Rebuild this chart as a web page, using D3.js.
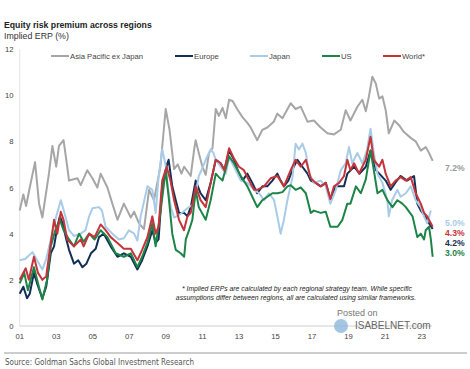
<!DOCTYPE html>
<meta charset="utf-8">
<style>
body { margin: 0; background: #fff; }
text { font-family: "Liberation Sans", Arial, sans-serif; }
.tick-label { font-size: 7.7px; fill: #444; }
.legend-label { font-size: 7.7px; fill: #444; }
.series { fill: none; stroke-width: 2; stroke-linejoin: round; }
</style>
<body>
<script src="https://cdn.jsdelivr.net/npm/d3@7"></script>
<script>

var width = 470,
    height = 369;

// series, [decimal year, implied ERP %]
var asiaPac = [[2001.0,5.0],[2001.2,5.7],[2001.35,5.2],[2001.55,6.0],[2001.84,7.1],[2002.06,5.3],[2002.24,4.7],[2002.6,6.6],[2002.79,7.8],[2003.0,6.9],[2003.15,7.8],[2003.4,8.05],[2003.6,6.9],[2003.7,6.3],[2004.16,6.4],[2004.34,6.1],[2004.7,6.75],[2004.98,6.4],[2005.25,6.0],[2005.43,6.6],[2005.8,6.0],[2006.07,5.3],[2006.35,4.6],[2006.7,5.3],[2007.08,4.7],[2007.26,4.95],[2007.53,4.45],[2007.8,4.2],[2008.08,5.9],[2008.35,5.45],[2008.7,6.9],[2008.99,9.4],[2009.2,8.5],[2009.45,6.8],[2009.65,7.0],[2009.85,6.6],[2010.0,6.9],[2010.36,6.5],[2010.54,7.6],[2010.63,8.05],[2010.8,7.5],[2011.0,6.9],[2011.18,6.55],[2011.36,7.5],[2011.55,7.7],[2011.73,9.4],[2011.9,9.1],[2012.1,9.45],[2012.28,9.0],[2012.46,9.8],[2012.65,9.75],[2012.9,9.4],[2013.19,9.05],[2013.46,8.8],[2013.64,8.6],[2014.0,8.05],[2014.28,8.5],[2014.55,8.6],[2014.9,8.85],[2015.1,9.2],[2015.38,9.0],[2015.83,9.65],[2016.1,9.4],[2016.38,9.5],[2016.75,8.85],[2017.1,8.9],[2017.47,8.6],[2017.84,8.35],[2018.2,8.3],[2018.57,8.5],[2018.84,9.35],[2019.1,8.9],[2019.48,9.5],[2019.75,9.8],[2019.94,9.3],[2020.1,9.9],[2020.3,10.8],[2020.49,10.5],[2020.67,9.85],[2020.85,9.95],[2021.03,9.35],[2021.2,8.35],[2021.5,8.9],[2021.76,8.7],[2022.03,8.4],[2022.4,8.15],[2022.67,8.0],[2022.95,7.6],[2023.22,7.75],[2023.4,7.5],[2023.6,7.15]];

var europe = [[2001.0,1.4],[2001.2,1.7],[2001.4,1.2],[2001.55,1.4],[2001.78,2.3],[2001.95,1.85],[2002.24,1.2],[2002.45,1.7],[2002.7,3.15],[2002.88,3.45],[2003.06,4.3],[2003.2,4.75],[2003.35,4.45],[2003.52,3.85],[2003.7,3.3],[2003.97,2.7],[2004.2,2.85],[2004.43,2.55],[2004.65,2.7],[2004.9,3.15],[2005.16,3.35],[2005.34,3.85],[2005.6,4.0],[2005.98,3.45],[2006.35,3.0],[2006.7,3.15],[2007.08,3.0],[2007.44,2.45],[2007.7,2.85],[2007.99,3.45],[2008.26,4.15],[2008.44,3.6],[2008.6,3.75],[2008.8,6.05],[2009.08,7.05],[2009.15,7.2],[2009.35,6.05],[2009.54,5.45],[2009.72,4.9],[2010.0,4.9],[2010.18,4.75],[2010.36,5.15],[2010.63,6.3],[2010.9,5.75],[2011.18,5.45],[2011.45,6.2],[2011.73,7.2],[2012.0,7.05],[2012.2,6.75],[2012.46,7.6],[2012.73,7.2],[2013.0,6.6],[2013.19,6.3],[2013.46,6.6],[2013.73,6.2],[2014.0,5.75],[2014.28,6.05],[2014.55,6.05],[2014.83,6.3],[2015.1,6.6],[2015.28,6.3],[2015.46,6.05],[2015.7,6.3],[2016.0,6.9],[2016.2,7.2],[2016.47,6.9],[2016.75,6.6],[2016.93,6.3],[2017.2,6.2],[2017.47,6.05],[2017.75,6.2],[2018.0,5.5],[2018.3,6.05],[2018.75,6.05],[2018.93,6.6],[2019.3,6.9],[2019.6,6.6],[2019.94,6.9],[2020.2,7.6],[2020.5,6.75],[2021.03,6.3],[2021.3,5.9],[2021.55,6.2],[2021.85,6.5],[2022.2,6.3],[2022.58,6.5],[2022.76,5.3],[2022.95,5.0],[2023.2,4.75],[2023.4,4.45],[2023.6,4.2]];

var japan = [[2001.0,2.85],[2001.3,2.9],[2001.7,3.2],[2001.95,2.85],[2002.24,2.45],[2002.45,2.9],[2002.7,3.75],[2003.0,4.75],[2003.25,5.45],[2003.45,4.9],[2003.7,4.15],[2003.97,3.9],[2004.34,4.0],[2004.6,4.15],[2004.8,4.75],[2004.98,5.1],[2005.34,5.15],[2005.5,5.0],[2005.7,4.3],[2006.07,4.0],[2006.43,3.75],[2006.7,3.8],[2006.98,4.15],[2007.26,4.0],[2007.44,3.7],[2007.62,4.75],[2007.99,6.05],[2008.26,5.9],[2008.44,4.9],[2008.6,6.45],[2008.8,7.65],[2009.0,6.9],[2009.1,6.05],[2009.27,5.15],[2009.45,4.7],[2009.8,4.85],[2010.18,5.1],[2010.54,5.3],[2010.8,6.5],[2010.95,6.75],[2011.18,7.2],[2011.45,7.65],[2011.6,7.5],[2011.73,7.2],[2012.0,6.9],[2012.28,6.6],[2012.46,7.3],[2012.73,6.9],[2013.1,6.3],[2013.46,6.2],[2013.83,5.9],[2014.1,5.75],[2014.37,5.45],[2014.64,5.75],[2014.92,5.45],[2015.1,4.75],[2015.28,4.0],[2015.46,4.6],[2015.65,5.45],[2015.93,6.45],[2016.1,7.9],[2016.28,7.65],[2016.47,7.9],[2016.66,7.5],[2016.84,6.6],[2017.1,6.2],[2017.47,6.3],[2017.75,6.05],[2018.0,5.3],[2018.3,5.9],[2018.57,6.75],[2018.84,7.05],[2019.02,7.75],[2019.2,7.05],[2019.48,7.5],[2019.75,7.05],[2020.0,7.6],[2020.2,8.55],[2020.38,7.5],[2020.58,6.6],[2020.85,6.2],[2021.12,5.45],[2021.2,4.75],[2021.38,5.45],[2021.67,5.9],[2021.85,5.6],[2022.13,5.75],[2022.4,6.05],[2022.67,5.45],[2022.95,5.15],[2023.13,4.75],[2023.3,4.45],[2023.5,5.0]];

var us = [[2001.0,1.85],[2001.25,2.3],[2001.45,1.55],[2001.78,2.55],[2002.05,1.7],[2002.24,1.15],[2002.5,2.0],[2002.7,3.45],[2002.95,4.15],[2003.2,4.6],[2003.4,4.15],[2003.7,3.75],[2003.97,3.45],[2004.25,4.0],[2004.5,3.65],[2004.8,4.0],[2005.1,3.75],[2005.43,4.15],[2005.8,3.85],[2006.25,3.15],[2006.7,3.0],[2007.08,3.15],[2007.44,2.55],[2007.7,3.0],[2007.99,3.6],[2008.26,4.45],[2008.44,3.45],[2008.7,4.9],[2008.99,6.75],[2009.17,5.45],[2009.35,4.0],[2009.54,3.3],[2009.81,3.15],[2010.0,3.0],[2010.09,3.75],[2010.27,4.15],[2010.45,4.6],[2010.63,5.9],[2010.8,5.15],[2011.18,4.6],[2011.45,5.45],[2011.73,6.6],[2011.9,6.45],[2012.1,6.3],[2012.46,7.35],[2012.73,7.05],[2013.1,6.5],[2013.46,6.05],[2013.73,5.6],[2014.0,5.15],[2014.28,5.45],[2014.55,5.6],[2014.83,5.75],[2015.1,5.75],[2015.38,5.8],[2015.65,6.05],[2015.83,6.1],[2016.1,5.9],[2016.38,6.0],[2016.66,5.75],[2016.93,4.9],[2017.1,5.0],[2017.47,4.9],[2017.75,4.95],[2018.0,4.3],[2018.4,4.3],[2018.66,4.6],[2018.93,5.3],[2019.1,5.3],[2019.4,6.05],[2019.67,5.75],[2019.94,6.35],[2020.2,7.6],[2020.38,6.75],[2020.58,5.75],[2020.85,5.9],[2021.12,5.45],[2021.4,5.15],[2021.67,5.45],[2021.94,5.3],[2022.13,5.15],[2022.5,4.75],[2022.76,3.85],[2022.95,4.0],[2023.13,3.75],[2023.22,4.15],[2023.4,4.3],[2023.5,3.75],[2023.6,3.0]];

var world = [[2001.0,2.0],[2001.33,2.5],[2001.5,2.0],[2001.78,3.0],[2002.0,2.3],[2002.24,2.0],[2002.45,2.15],[2002.7,3.6],[2002.88,4.6],[2003.06,4.0],[2003.25,4.95],[2003.4,4.6],[2003.6,3.75],[2003.97,3.45],[2004.34,3.75],[2004.5,3.45],[2004.8,4.0],[2005.1,3.85],[2005.43,4.4],[2005.7,4.15],[2005.98,3.85],[2006.35,3.6],[2006.7,3.35],[2007.08,3.35],[2007.44,2.85],[2007.7,3.3],[2007.99,3.85],[2008.26,4.75],[2008.44,4.0],[2008.6,4.3],[2008.8,6.3],[2009.04,6.9],[2009.25,6.3],[2009.45,5.45],[2009.72,4.6],[2009.99,4.15],[2010.18,4.75],[2010.36,4.9],[2010.63,6.05],[2010.9,5.45],[2011.18,5.15],[2011.45,6.2],[2011.73,7.2],[2012.0,7.05],[2012.2,6.75],[2012.46,7.7],[2012.73,7.25],[2013.0,6.9],[2013.27,6.75],[2013.55,6.3],[2013.83,5.9],[2014.0,5.9],[2014.37,6.05],[2014.73,6.4],[2015.1,6.5],[2015.46,6.05],[2015.83,6.75],[2016.1,7.2],[2016.38,6.9],[2016.66,7.2],[2016.93,6.4],[2017.2,6.2],[2017.47,6.05],[2017.75,6.2],[2018.0,5.5],[2018.2,6.05],[2018.48,6.2],[2018.75,6.5],[2018.93,7.2],[2019.1,6.75],[2019.3,7.05],[2019.57,6.6],[2019.75,6.9],[2019.94,7.2],[2020.2,8.2],[2020.38,7.2],[2020.67,6.9],[2020.85,7.2],[2021.03,6.6],[2021.3,6.05],[2021.57,6.3],[2021.85,6.45],[2022.13,6.3],[2022.4,6.45],[2022.67,5.75],[2022.95,5.3],[2023.13,4.9],[2023.3,4.75],[2023.5,4.45],[2023.6,4.3]];

var seriesNames = ["Asia Pacific ex Japan", "Europe", "Japan", "US", "World*"];
var seriesColors = ["#a6a6a6", "#132f55", "#a8cbe8", "#1c8447", "#c4343a"];
var seriesData = [asiaPac, europe, japan, us, world];

var xTickYears = [2001, 2003, 2005, 2007, 2009, 2011, 2013, 2015, 2017, 2019, 2021, 2023];
var yTicks = [0, 2, 4, 6, 8, 10, 12];

// end-of-series labels (drawn in this order top to bottom)
var endLabels = ["7.2%", "5.0%", "4.3%", "4.2%", "3.0%"];
var endLabelColors = ["#9a9a9a", "#a8cbe8", "#c4343a", "#132f55", "#1c8447"];

var svg = d3.select("body").append("svg")
    .attr("width", width)
    .attr("height", height);

var x = d3.scaleLinear().domain([2001, 2023]).range([19.7, 421.7]);
var y = d3.scaleLinear().domain([0, 12]).range([326, 49]);

// title
svg.append("text").attr("x", 4).attr("y", 28)
    .style("font-size", "8.7px").style("font-weight", "bold").style("fill", "#222")
    .text("Equity risk premium across regions");
svg.append("text").attr("x", 4).attr("y", 38.5)
    .style("font-size", "8.8px").style("fill", "#333")
    .text("Implied ERP (%)");

// axes lines
svg.append("line").attr("x1", x(2001)).attr("x2", x(2001)).attr("y1", y(12)).attr("y2", y(0))
    .attr("stroke", "#e4e4e4").attr("stroke-width", 1);
svg.append("line").attr("x1", x(2001)).attr("x2", 432).attr("y1", y(0)).attr("y2", y(0))
    .attr("stroke", "#cfcfcf").attr("stroke-width", 1);

svg.append("g").selectAll("text")
    .data(yTicks)
    .enter()
    .append("text")
    .attr("class", "tick-label")
    .attr("x", 13.5)
    .attr("y", function(d) { return y(d) + 3; })
    .attr("text-anchor", "end")
    .text(function(d) { return d; });

svg.append("g").selectAll("text")
    .data(xTickYears)
    .enter()
    .append("text")
    .attr("class", "tick-label")
    .attr("x", function(d) { return x(d); })
    .attr("y", 339)
    .attr("text-anchor", "middle")
    .text(function(d) { return d3.format("02d")(d % 100); });

// legend
var legendX = [51, 175, 250, 322, 383];
var legend = svg.append("g").selectAll("g")
    .data(seriesNames)
    .enter()
    .append("g")
    .attr("transform", function(d, i) { return "translate(" + legendX[i] + ",56)"; });
legend.append("line")
    .attr("x1", 0).attr("x2", 18)
    .attr("stroke", function(d, i) { return seriesColors[i]; })
    .attr("stroke-width", 2);
legend.append("text")
    .attr("class", "legend-label")
    .attr("x", 19).attr("y", 2.8)
    .text(function(d) { return d; });

// footnote
var note = svg.append("g").style("font-size", "6.8px").style("font-style", "italic").style("fill", "#222");
note.append("text").attr("x", 297).attr("y", 291).attr("text-anchor", "middle")
    .text("* Implied ERPs are calculated by each regional strategy team. While specific");
note.append("text").attr("x", 296).attr("y", 300).attr("text-anchor", "middle")
    .text("assumptions differ between regions, all are calculated using similar frameworks.");

// watermark
svg.append("circle").attr("cx", 341).attr("cy", 326).attr("r", 7)
    .attr("fill", "#8fb8db").attr("opacity", 0.8);
svg.append("text").attr("x", 337).attr("y", 315.5)
    .style("font-size", "9px").style("fill", "#777").text("Posted on");
svg.append("text").attr("x", 355).attr("y", 329)
    .style("font-size", "10px").style("fill", "#666").text("ISABELNET.com");

// series lines
var line = d3.line()
    .x(function(d) { return x(d[0]); })
    .y(function(d) { return y(d[1]); });

svg.append("g")
    .selectAll("path")
    .data(seriesData)
    .enter()
    .append("path")
    .attr("class", "series")
    .attr("stroke", function(d, i) { return seriesColors[i]; })
    .attr("d", line);

// end labels
var endY = [171, 226, 236, 246, 256];
svg.append("g").selectAll("text")
    .data(endLabels)
    .enter()
    .append("text")
    .attr("x", 445)
    .attr("y", function(d, i) { return endY[i]; })
    .style("font-size", "8.6px").style("font-weight", "bold")
    .style("fill", function(d, i) { return endLabelColors[i]; })
    .text(function(d) { return d; });

// source
svg.append("line").attr("x1", 4).attr("x2", 467).attr("y1", 353).attr("y2", 353)
    .attr("stroke", "#9a9a9a").attr("stroke-width", 1);
svg.append("text").attr("x", 5).attr("y", 364.5)
    .style("font-family", "'Liberation Sans Narrow', 'DejaVu Sans Condensed', sans-serif")
    .style("font-size", "8px").style("fill", "#555")
    .text("Source: Goldman Sachs Global Investment Research");

</script>
